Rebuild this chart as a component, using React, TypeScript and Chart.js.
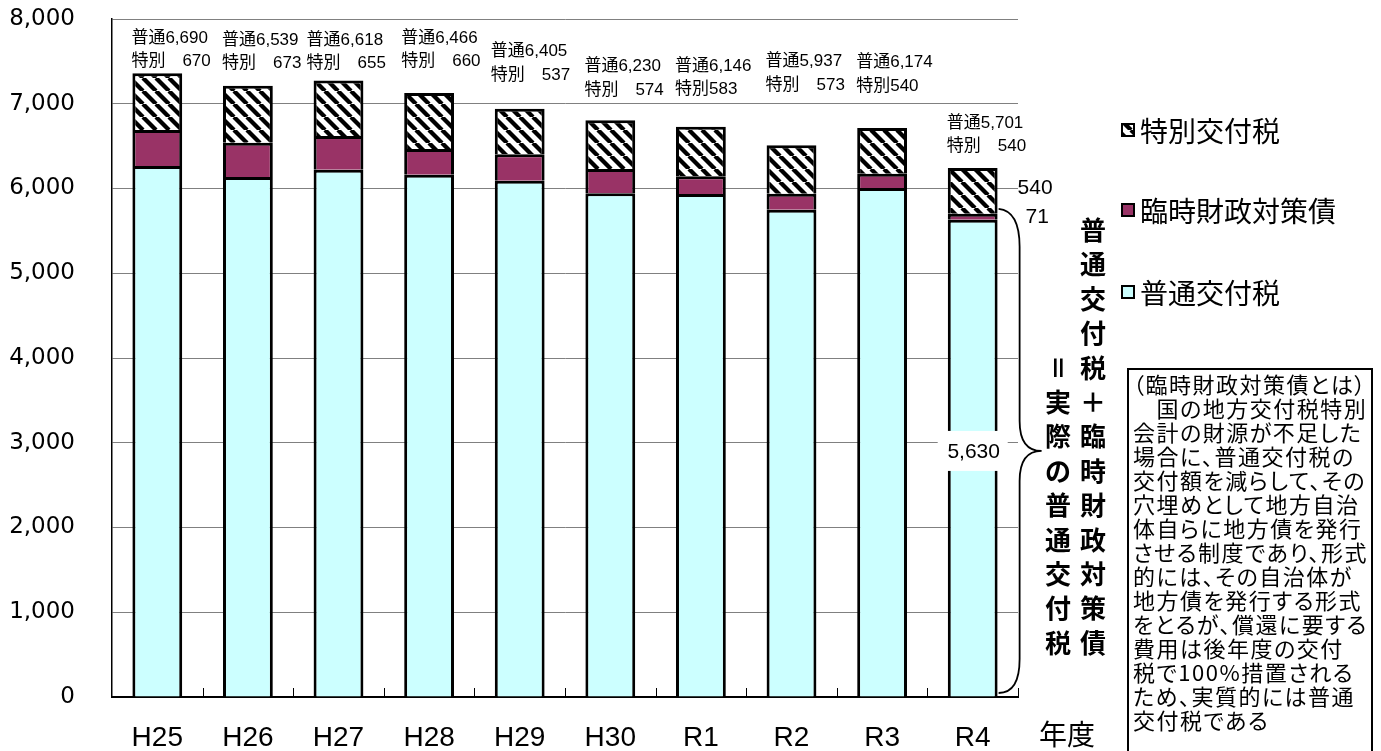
import React, { useEffect, useRef } from "react";
import { Chart, registerables } from "chart.js";

Chart.register(...registerables);

// ---- data (億円) ----
const categories = ["H25", "H26", "H27", "H28", "H29", "H30", "R1", "R2", "R3", "R4"];
const futsuKofuzei = [6265, 6135, 6220, 6163, 6090, 5943, 5934, 5748, 6005, 5630];
const rinjiZaiseiTaisakusai = [425, 404, 398, 303, 315, 287, 212, 189, 169, 71];
const tokubetsuKofuzei = [670, 673, 655, 660, 537, 574, 583, 573, 540, 540];
const yTickValues = [0, 1000, 2000, 3000, 4000, 5000, 6000, 7000, 8000];
const specialLabelGap = ["　", "　", "　", "　", "　", "　", "", "　", "", "　"];
const seriesNames = ["普通交付税", "臨時財政対策債", "特別交付税"];
const xAxisTitle = "年度";
const braceText = "普通交付税＋臨時財政対策債";
const braceText2 = "＝実際の普通交付税";
const noteLines = [
  "（臨時財政対策債とは）",
  "　国の地方交付税特別",
  "会計の財源が不足した",
  "場合に、普通交付税の",
  "交付額を減らして、その",
  "穴埋めとして地方自治",
  "体自らに地方債を発行",
  "させる制度であり、形式",
  "的には、その自治体が",
  "地方債を発行する形式",
  "をとるが、償還に要する",
  "費用は後年度の交付",
  "税で100%措置される",
  "ため、実質的には普通",
  "交付税である",
];

// ---- layout of the value labels above the bars (data units / px) ----
const labelLevel = [7772, 7752, 7752, 7772, 7614, 7437, 7445, 7496, 7484, 6769];
const labelDx = [0, 0, -6, -2, -3, 0, 0, 0, 0, 0];

const fmt = (v: number) => v.toLocaleString("en-US");
const LATIN = "'Liberation Sans', Arial, 'Noto Sans CJK JP'";
const CJK = "'Noto Sans CJK JP', 'Liberation Sans'";

function makeHatch(): CanvasPattern | string {
  const size = 13;
  const c = document.createElement("canvas");
  c.width = size;
  c.height = size;
  const g = c.getContext("2d");
  if (!g) return "#888";
  g.fillStyle = "#fff";
  g.fillRect(0, 0, size, size);
  g.strokeStyle = "#000";
  g.lineWidth = 4.3;
  g.beginPath();
  for (const o of [-size, 0, size]) {
    g.moveTo(o, 0);
    g.lineTo(o + size, size);
  }
  g.stroke();
  return g.createPattern(c, "repeat") || "#888";
}

export default function App() {
  const ref = useRef<HTMLCanvasElement | null>(null);

  useEffect(() => {
    if (!ref.current) return;
    const hatch = makeHatch();
    const colors = ["#CCFFFF", "#993366", hatch];

    const overlay = {
      id: "overlay",
      afterDatasetsDraw(chart: any) {
        const ctx: CanvasRenderingContext2D = chart.ctx;
        const ys = chart.scales.y;
        const area = chart.chartArea;
        ctx.save();

        // inward ticks at category boundaries
        const n = categories.length;
        const cw = (area.right - area.left) / n;
        ctx.strokeStyle = "#000";
        ctx.lineWidth = 1;
        for (let i = 1; i <= n; i++) {
          const x = Math.round(area.left + cw * i) + 0.5;
          ctx.beginPath();
          ctx.moveTo(x, area.bottom);
          ctx.lineTo(x, area.bottom - 9);
          ctx.stroke();
        }

        // labels above bars
        const metaTop = chart.getDatasetMeta(2);
        ctx.fillStyle = "#000";
        ctx.textBaseline = "middle";
        ctx.textAlign = "left";
        ctx.font = `17px ${LATIN}`;
        for (let i = 0; i < n; i++) {
          const bar = metaTop.data[i];
          const left = bar.x - bar.width / 2 + labelDx[i] - 1;
          const y1 = ys.getPixelForValue(labelLevel[i]);
          const total = futsuKofuzei[i] + rinjiZaiseiTaisakusai[i];
          ctx.fillText("普通" + fmt(total), left, y1);
          ctx.fillText("特別" + specialLabelGap[i] + fmt(tokubetsuKofuzei[i]), left, y1 + 23.4);
        }

        // R4 annotations
        const last = n - 1;
        const bBlue = chart.getDatasetMeta(0).data[last];
        const bMag = chart.getDatasetMeta(1).data[last];
        const bHat = chart.getDatasetMeta(2).data[last];
        const right = bBlue.x + bBlue.width / 2;
        ctx.font = `21px ${LATIN}`;
        ctx.fillText(fmt(tokubetsuKofuzei[last]), right + 20, (bHat.y + bHat.base) / 2 - 3);
        ctx.fillText(fmt(rinjiZaiseiTaisakusai[last]), right + 28, (bMag.y + bMag.base) / 2);

        // brace
        const top = bMag.y - 5;
        const bot = area.bottom - 4;
        const mid = (top + bot) / 2;
        const bx = right + 22;
        const tip = bx + 22;
        ctx.strokeStyle = "#000";
        ctx.lineWidth = 1.8;
        ctx.beginPath();
        ctx.moveTo(right + 1, top);
        ctx.quadraticCurveTo(bx, top + 2, bx, top + 38);
        ctx.lineTo(bx, mid - 30);
        ctx.quadraticCurveTo(bx, mid, tip, mid);
        ctx.quadraticCurveTo(bx, mid, bx, mid + 30);
        ctx.lineTo(bx, bot - 34);
        ctx.quadraticCurveTo(bx, bot, right + 1, bot);
        ctx.stroke();

        // 5,630 label with white background
        ctx.fillStyle = "#fff";
        ctx.fillRect(bBlue.x - 35, mid - 20, 70, 40);
        ctx.fillStyle = "#000";
        ctx.textAlign = "center";
        ctx.font = `21px ${LATIN}`;
        ctx.fillText(fmt(futsuKofuzei[last]), bBlue.x + 1, mid + 1);

        // legend
        const legendY = [130, 210, 292];
        const legendOrder = [2, 1, 0];
        ctx.textAlign = "left";
        ctx.font = `28px ${CJK}`;
        legendOrder.forEach((ds, k) => {
          const y = legendY[k];
          ctx.fillStyle = colors[ds] as any;
          ctx.fillRect(1122, y - 6, 12, 12);
          ctx.strokeStyle = "#000";
          ctx.lineWidth = 2;
          ctx.strokeRect(1122, y - 6, 12, 12);
          ctx.fillStyle = "#000";
          ctx.fillText(seriesNames[ds], 1140, y + 1);
        });

        // vertical texts
        ctx.font = `bold 26px ${CJK}`;
        ctx.textAlign = "center";
        const step = 34.4;
        const colBottom = 643;
        const drawCol = (text: string, x: number) => {
          const chars = Array.from(text);
          chars.forEach((ch, k) => {
            const y = colBottom - (chars.length - 1 - k) * step;
            if (ch === "＝") {
              ctx.save();
              ctx.translate(x, y);
              ctx.rotate(Math.PI / 2);
              ctx.fillText(ch, 0, 0);
              ctx.restore();
            } else {
              ctx.fillText(ch, x, y);
            }
          });
        };
        drawCol(braceText, 1093);
        drawCol(braceText2, 1058);

        // x axis title
        ctx.font = `28px ${CJK}`;
        ctx.textAlign = "left";
        ctx.fillText(xAxisTitle, 1039, 734);

        ctx.restore();
      },
    };

    const chart = new Chart(ref.current, {
      type: "bar",
      data: {
        labels: categories,
        datasets: [
          {
            label: seriesNames[0],
            data: futsuKofuzei,
            backgroundColor: colors[0] as any,
            borderColor: "#000",
            borderWidth: 3,
            borderSkipped: "start",
          },
          {
            label: seriesNames[1],
            data: rinjiZaiseiTaisakusai,
            backgroundColor: colors[1] as any,
            borderColor: "#000",
            borderWidth: 3,
            borderSkipped: "start",
          },
          {
            label: seriesNames[2],
            data: tokubetsuKofuzei,
            backgroundColor: colors[2] as any,
            borderColor: "#000",
            borderWidth: 3,
            borderSkipped: "start",
          },
        ],
      },
      options: {
        animation: false,
        responsive: false,
        devicePixelRatio: 1,
        layout: { padding: { left: 0, right: 363, top: 19, bottom: 0 } },
        plugins: { legend: { display: false }, tooltip: { enabled: false } },
        datasets: { bar: { barPercentage: 0.55, categoryPercentage: 1 } },
        scales: {
          x: {
            stacked: true,
            grid: { display: false, drawTicks: false },
            border: { color: "#000", width: 2 },
            ticks: {
              color: "#000",
              font: { family: LATIN, size: 28 },
              padding: 24,
              maxRotation: 0,
              autoSkip: false,
            },
            afterFit: (s: any) => {
              s.height = 54;
              s.paddingLeft = 0;
              s.paddingRight = 0;
            },
          },
          y: {
            stacked: true,
            min: 0,
            max: 8000,
            afterBuildTicks: (s: any) => {
              s.ticks = yTickValues.map((v) => ({ value: v }));
            },
            ticks: {
              color: "#000",
              font: { family: "'DejaVu Sans'", size: 23 },
              padding: 37,
              callback: (v: any) => fmt(Number(v)),
            },
            grid: { color: "#808080", lineWidth: 1, drawTicks: false },
            border: { color: "#000", width: 1.5 },
            afterFit: (s: any) => {
              s.width = 112;
              s.paddingTop = 0;
              s.paddingBottom = 0;
            },
          },
        },
      },
      plugins: [overlay],
    });
    return () => chart.destroy();
  }, []);

  return (
    <div
      style={{
        position: "absolute",
        left: 0,
        top: 0,
        width: 1381,
        height: 751,
        overflow: "hidden",
        background: "#fff",
      }}
    >
      <canvas ref={ref} width={1381} height={751} style={{ position: "absolute", left: 0, top: 0 }} />
      <div
        style={{
          position: "absolute",
          left: 1127,
          top: 368,
          width: 246,
          height: 420,
          boxSizing: "border-box",
          border: "2px solid #000",
          padding: "1px 0 0 4px",
          fontFamily: "'Noto Sans CJK JP', sans-serif",
          fontSize: 22,
          lineHeight: "24px",
          letterSpacing: "1.5px",
          fontFeatureSettings: '"palt"',
          whiteSpace: "pre",
          color: "#000",
          background: "#fff",
        }}
      >
        {noteLines.join("\n")}
      </div>
    </div>
  );
}
